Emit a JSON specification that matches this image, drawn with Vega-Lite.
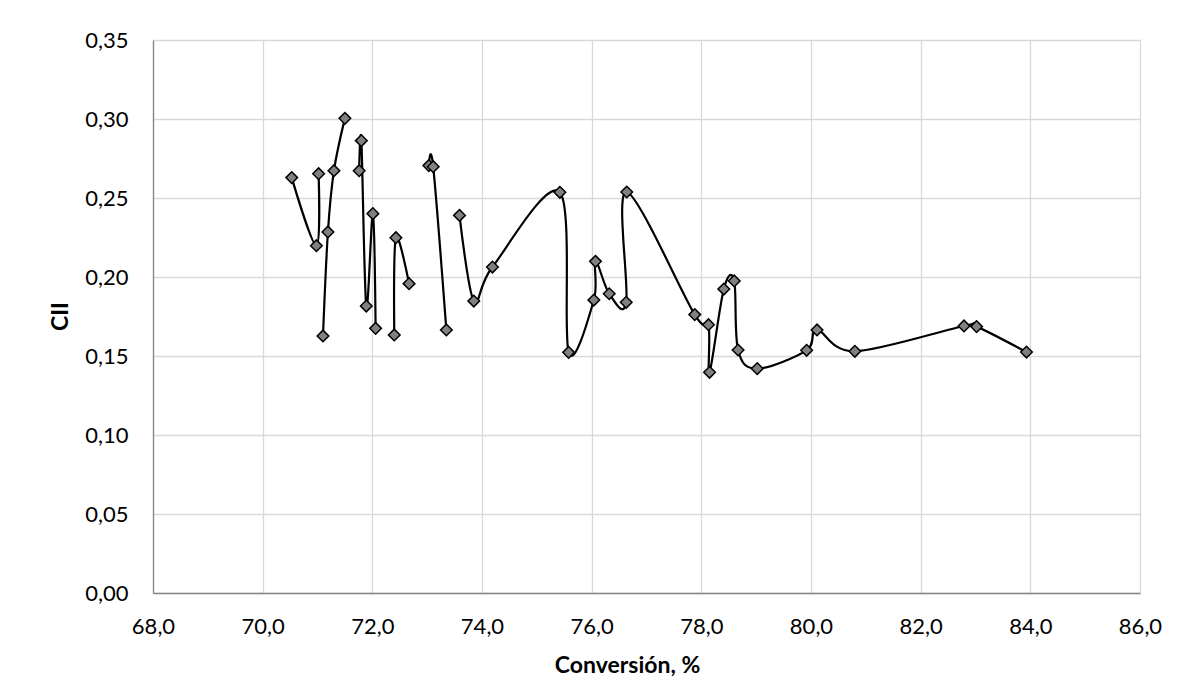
{
  "$schema": "https://vega.github.io/schema/vega-lite/v6.json",
  "autosize": {"type": "none"},
  "width": 987,
  "height": 553,
  "padding": {"left": 153, "top": 40, "right": 53, "bottom": 107},
  "background": "white",
  "config": {
    "locale": {"number": {"decimal": ",", "thousands": ".", "grouping": [3], "currency": ["", " €"]}},
    "view": {"stroke": null},
    "font": "Lato",
    "axis": {
      "labelFont": "Lato", "titleFont": "Lato", "labelColor": "#000000", "titleColor": "#000000",
      "gridColor": "#d9d9d9", "gridWidth": 1.3, "domainColor": "#868686", "domainWidth": 1.3,
      "ticks": false, "tickSize": 0, "labelFontSize": 22, "titleFontSize": 23, "titleFontWeight": "bold"
    }
  },
  "data": {"values": [
    {"i": 1, "s": "A", "x": 70.53, "y": 0.2629},
    {"i": 2, "s": "A", "x": 70.98, "y": 0.2198},
    {"i": 3, "s": "A", "x": 71.02, "y": 0.2654},
    {"i": 4, "s": "B", "x": 71.10, "y": 0.1627},
    {"i": 5, "s": "B", "x": 71.19, "y": 0.2285},
    {"i": 6, "s": "B", "x": 71.30, "y": 0.2673},
    {"i": 7, "s": "B", "x": 71.50, "y": 0.3004},
    {"i": 8, "s": "C", "x": 71.76, "y": 0.2673},
    {"i": 9, "s": "C", "x": 71.80, "y": 0.2863},
    {"i": 10, "s": "C", "x": 71.89, "y": 0.1816},
    {"i": 11, "s": "C", "x": 72.01, "y": 0.2401},
    {"i": 12, "s": "C", "x": 72.06, "y": 0.1675},
    {"i": 13, "s": "D", "x": 72.40, "y": 0.1633},
    {"i": 14, "s": "D", "x": 72.43, "y": 0.2249},
    {"i": 15, "s": "D", "x": 72.67, "y": 0.1958},
    {"i": 16, "s": "E", "x": 73.03, "y": 0.2705},
    {"i": 17, "s": "E", "x": 73.11, "y": 0.2698},
    {"i": 18, "s": "E", "x": 73.35, "y": 0.1665},
    {"i": 19, "s": "F", "x": 73.59, "y": 0.2390},
    {"i": 20, "s": "F", "x": 73.85, "y": 0.1848},
    {"i": 21, "s": "F", "x": 74.19, "y": 0.2063},
    {"i": 22, "s": "F", "x": 75.42, "y": 0.2536},
    {"i": 23, "s": "F", "x": 75.58, "y": 0.1523},
    {"i": 24, "s": "F", "x": 76.04, "y": 0.1854},
    {"i": 25, "s": "F", "x": 76.07, "y": 0.2099},
    {"i": 26, "s": "F", "x": 76.32, "y": 0.1894},
    {"i": 27, "s": "F", "x": 76.63, "y": 0.1840},
    {"i": 28, "s": "F", "x": 76.64, "y": 0.2538},
    {"i": 29, "s": "F", "x": 77.88, "y": 0.1762},
    {"i": 30, "s": "F", "x": 78.13, "y": 0.1698},
    {"i": 31, "s": "F", "x": 78.15, "y": 0.1397},
    {"i": 32, "s": "F", "x": 78.41, "y": 0.1924},
    {"i": 33, "s": "F", "x": 78.60, "y": 0.1975},
    {"i": 34, "s": "F", "x": 78.67, "y": 0.1538},
    {"i": 35, "s": "F", "x": 79.02, "y": 0.1420},
    {"i": 36, "s": "F", "x": 79.92, "y": 0.1536},
    {"i": 37, "s": "F", "x": 80.11, "y": 0.1665},
    {"i": 38, "s": "F", "x": 80.80, "y": 0.1530},
    {"i": 39, "s": "F", "x": 82.79, "y": 0.1690},
    {"i": 40, "s": "F", "x": 83.02, "y": 0.1686},
    {"i": 41, "s": "F", "x": 83.93, "y": 0.1525}
  ]},
  "encoding": {
    "x": {
      "field": "x", "type": "quantitative",
      "scale": {"domain": [68, 86], "nice": false, "zero": false},
      "axis": {
        "values": [68, 70, 72, 74, 76, 78, 80, 82, 84, 86], "format": ".1f",
        "title": "Conversión, %", "labelPadding": 23, "labelFlush": false,
        "titleX": 474, "titleY": 72, "titleAlign": "center", "titleBaseline": "middle"
      }
    },
    "y": {
      "field": "y", "type": "quantitative",
      "scale": {"domain": [0, 0.35], "nice": false},
      "axis": {
        "values": [0, 0.05, 0.1, 0.15, 0.2, 0.25, 0.3, 0.35], "format": ".2f",
        "title": "CII", "labelPadding": 25, "labelFlush": false,
        "titleX": -93, "titleY": 276, "titleAlign": "center", "titleBaseline": "middle"
      }
    }
  },
  "layer": [
    {
      "mark": {"type": "line", "interpolate": "cardinal", "tension": 0, "color": "#000000", "strokeWidth": 2.2},
      "encoding": {
        "detail": {"field": "s", "type": "nominal"},
        "order": {"field": "i", "type": "quantitative"}
      }
    },
    {
      "mark": {"type": "point", "shape": "diamond", "filled": true, "fill": "#808080", "stroke": "#000000", "strokeWidth": 1.5, "size": 135, "opacity": 1}
    }
  ]
}
